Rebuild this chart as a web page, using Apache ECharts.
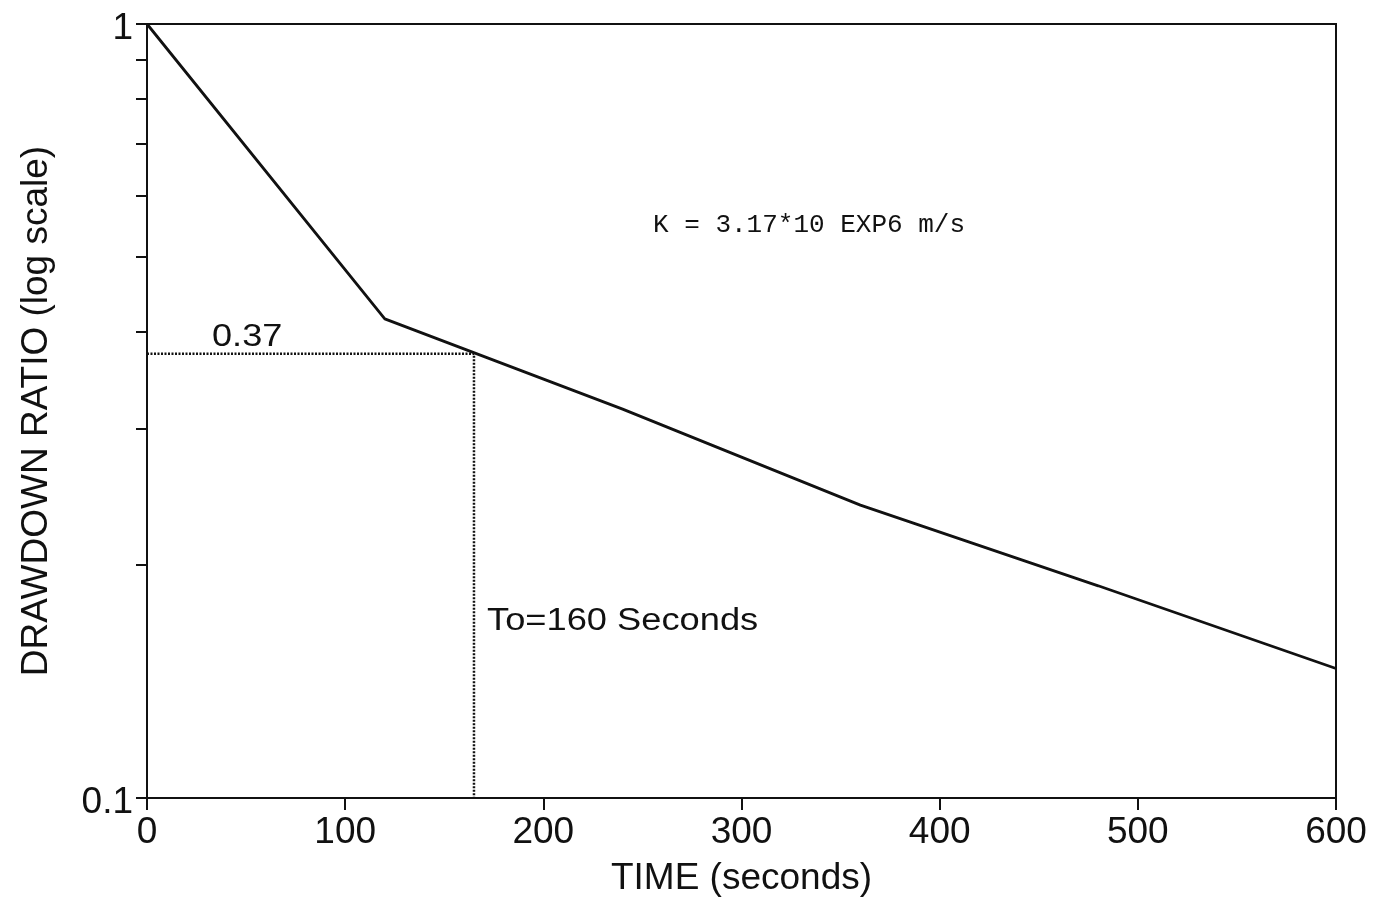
<!DOCTYPE html>
<html>
<head>
<meta charset="utf-8">
<script src="https://cdn.jsdelivr.net/npm/echarts@6/dist/echarts.min.js"></script>
<style>
html,body{margin:0;padding:0;background:#fff;}
#chart{width:1387px;height:899px;}
</style>
</head>
<body>
<div id="chart"></div>
<script>
// Data
var timeSeconds = [0, 120, 240, 360, 480, 600];
var drawdownRatio = [1, 0.416, 0.318, 0.239, 0.188, 0.147];
var refTime = 165;
var refRatio = 0.375;
var xTicks = [0, 100, 200, 300, 400, 500, 600];
var yMajorTicks = [0.1, 1];
var yMinorTicks = [0.1, 0.2, 0.3, 0.4, 0.5, 0.6, 0.7, 0.8, 0.9, 1];
var refLabel = '0.37';
var toLabel = 'To=160 Seconds';
var kLabel = 'K = 3.17*10 EXP6 m/s';

var ink = '#111';
var chart = echarts.init(document.getElementById('chart'), null, {renderer: 'canvas'});

var mainData = timeSeconds.map(function (t, i) { return [t, drawdownRatio[i]]; });
var refData = [[0, refRatio], [refTime, refRatio], [refTime, yMajorTicks[0]]];

chart.setOption({
  animation: false,
  backgroundColor: '#fff',
  textStyle: {fontFamily: 'Liberation Sans, Arial, sans-serif', color: ink},
  grid: {left: 147, right: 51, top: 24, bottom: 101, show: true, borderColor: ink, borderWidth: 2,
    backgroundColor: 'transparent', containLabel: false, outerBoundsMode: 'none'},
  xAxis: {
    type: 'value', min: 0, max: 600, interval: 100,
    name: 'TIME (seconds)', nameLocation: 'middle', nameGap: 62,
    nameTextStyle: {fontSize: 37, color: ink, fontFamily: 'Liberation Sans'},
    axisLine: {show: true, lineStyle: {color: ink, width: 2}},
    axisTick: {show: true, inside: false, length: 12, lineStyle: {color: ink, width: 2}, customValues: xTicks},
    axisLabel: {fontSize: 37, color: ink, margin: 16, customValues: xTicks, fontFamily: 'Liberation Sans'},
    splitLine: {show: false}
  },
  yAxis: {
    type: 'log', logBase: 10, min: 0.1, max: 1,
    name: 'DRAWDOWN RATIO (log scale)', nameLocation: 'middle', nameGap: 92,
    nameTextStyle: {fontSize: 37, color: ink, fontFamily: 'Liberation Sans'},
    axisLine: {show: true, lineStyle: {color: ink, width: 2}},
    axisTick: {show: true, inside: false, length: 11, lineStyle: {color: ink, width: 2}, customValues: yMinorTicks},
    axisLabel: {fontSize: 37, color: ink, margin: 14, customValues: yMajorTicks, fontFamily: 'Liberation Sans',
      verticalAlign: 'top', lineHeight: 10,
      formatter: function (v) { return String(Math.round(v * 10) / 10); }},
    splitLine: {show: false},
    minorTick: {show: false}
  },
  series: [
    {
      type: 'line', data: mainData, showSymbol: false, symbol: 'none',
      lineStyle: {color: ink, width: 2.8}, z: 3
    },
    {
      type: 'line', data: refData, showSymbol: false, symbol: 'none',
      lineStyle: {color: ink, width: 2.5, type: [2, 1.5]}, z: 2
    }
  ],
  graphic: [
    {type: 'text', x: 212, y: 321, scaleX: 1.13, style: {text: refLabel, font: '32px "Liberation Sans"', fill: ink}},
    {type: 'text', x: 487, y: 606, scaleX: 1.17, style: {text: toLabel, font: '31px "Liberation Sans"', fill: ink}},
    {type: 'text', x: 653, y: 212, style: {text: kLabel, font: '26px "Liberation Mono"', fill: ink}}
  ]
});
</script>
</body>
</html>
